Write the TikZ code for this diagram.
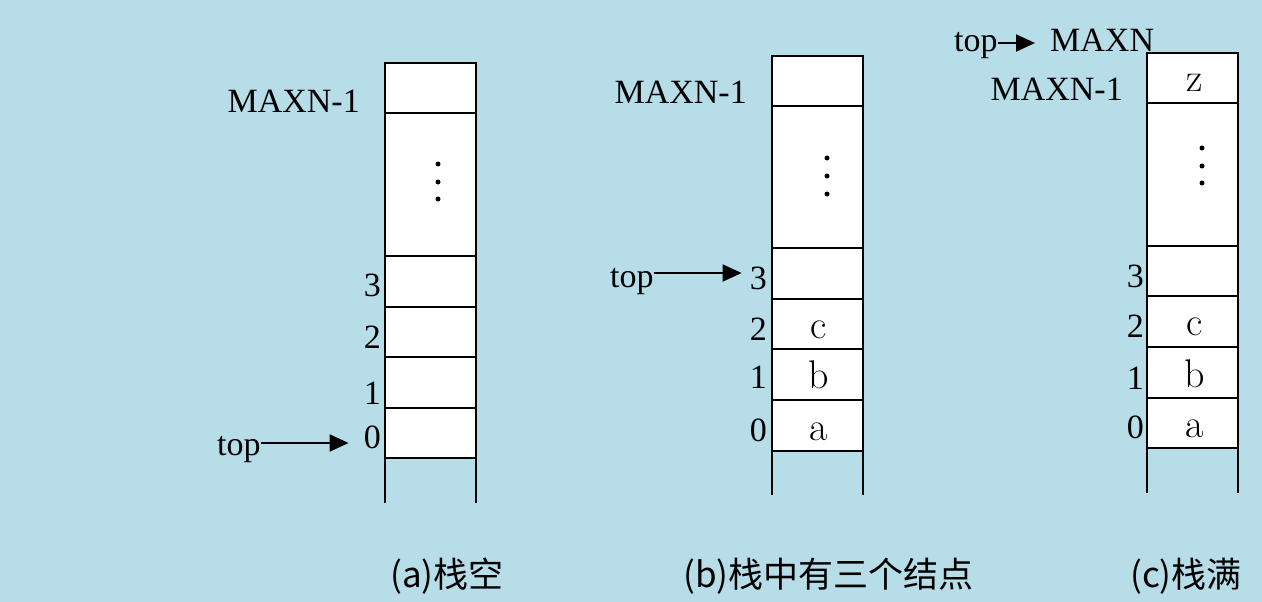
\documentclass[tikz,border=0pt]{standalone}
\usepackage{fontspec}
\newfontfamily\tnr{Liberation Serif}
\newfontfamily\cjk{Noto Sans CJK SC}
\usetikzlibrary{arrows.meta}
\definecolor{bgblue}{RGB}{183,221,232}
\tikzset{
  cellbox/.style={draw=black, line width=2.2pt, fill=white},
  openline/.style={draw=black, line width=2.2pt},
  lbl/.style={font=\tnr\fontsize{34}{40}\selectfont, inner sep=0pt},
  idx/.style={lbl, anchor=east},
  val/.style={font=\fontsize{40}{48}\selectfont\addfontfeatures{FakeBold=1.2}, inner sep=0pt, anchor=base},
  arr/.style={line width=2pt, -{Triangle[length=19pt,width=17pt]}},
  captxt/.style={font=\cjk\fontsize{35}{40}\selectfont, inner sep=0pt, anchor=west},
}
\begin{document}
\begin{tikzpicture}[x=1pt,y=-1pt]
\useasboundingbox (0,0) rectangle (1262,602);
\fill[bgblue] (0,0) rectangle (1262,602);

% ---------- stack (a) ----------
\foreach \t/\b in {63/113,113/256,256/307,307/357,357/408,408/458}
  \draw[cellbox] (385,\t) rectangle (476,\b);
\draw[openline] (385,458) -- (385,503) (476,458) -- (476,503);
\foreach \y in {164,182,199} \fill (438,\y) circle[radius=2.5];
\node[lbl, anchor=base east] (amax) at (360,112) {MAXN-1};
\node[idx] (a3) at (381,285) {3};
\node[idx] (a2) at (381,337) {2};
\node[idx] (a1) at (381,393) {1};
\node[idx] (a0) at (381,437) {0};
\node[lbl, anchor=base west] (atop) at (217,455) {top};
\coordinate (ast) at ([yshift=12pt]atop.base east);
\draw[arr, shorten >=15pt] (ast) -- (ast -| a0.west);

% ---------- stack (b) ----------
\foreach \t/\b in {56/106,106/248,248/299,299/349,349/400,400/451}
  \draw[cellbox] (772,\t) rectangle (863,\b);
\draw[openline] (772,451) -- (772,495) (863,451) -- (863,495);
\foreach \y in {158,176,194} \fill (827,\y) circle[radius=2.5];
\node[lbl, anchor=base east] (bmax) at (747,103) {MAXN-1};
\node[idx] (b3) at (767,278) {3};
\node[idx] (b2) at (767,329) {2};
\node[idx] (b1) at (767,377) {1};
\node[idx] (b0) at (767,430) {0};
\node[val] (bc) at (819,338) {c};
\node[val] (bb) at (819,388) {b};
\node[val] (ba) at (819,440) {a};
\node[lbl, anchor=base west] (btop) at (610,287) {top};
\coordinate (bst) at ([yshift=14pt]btop.base east);
\draw[arr, shorten >=8pt] (bst) -- (bst -| b3.west);

% ---------- stack (c) ----------
\foreach \t/\b in {53/103,103/246,246/296,296/347,347/398,398/448}
  \draw[cellbox] (1147,\t) rectangle (1238,\b);
\draw[openline] (1147,448) -- (1147,493) (1238,448) -- (1238,493);
\foreach \y in {148,166,183} \fill (1202,\y) circle[radius=2.5];
\node[lbl, anchor=base west] (cmaxn) at (1050,52) {MAXN};
\node[lbl, anchor=base east] (cmax) at (1123,100) {MAXN-1};
\node[idx] (c3) at (1144,276) {3};
\node[idx] (c2) at (1144,326) {2};
\node[idx] (c1) at (1144,378) {1};
\node[idx] (c0) at (1144,427) {0};
\node[val] (cz) at (1195,92) {z};
\node[val] (cc) at (1195,335) {c};
\node[val] (cb) at (1195,387) {b};
\node[val] (ca) at (1195,437) {a};
\node[lbl, anchor=base west] (ctop) at (954,52) {top};
\coordinate (cst) at ([yshift=9pt]ctop.base east);
\draw[arr, shorten >=15pt] (cst) -- (cst -| cmaxn.west);

% ---------- captions ----------
\node[captxt] (capa) at (390,576) {(a)栈空};
\node[captxt] (capb) at (683,576) {(b)栈中有三个结点};
\node[captxt] (capc) at (1130,576) {(c)栈满};
\end{tikzpicture}
\end{document}
